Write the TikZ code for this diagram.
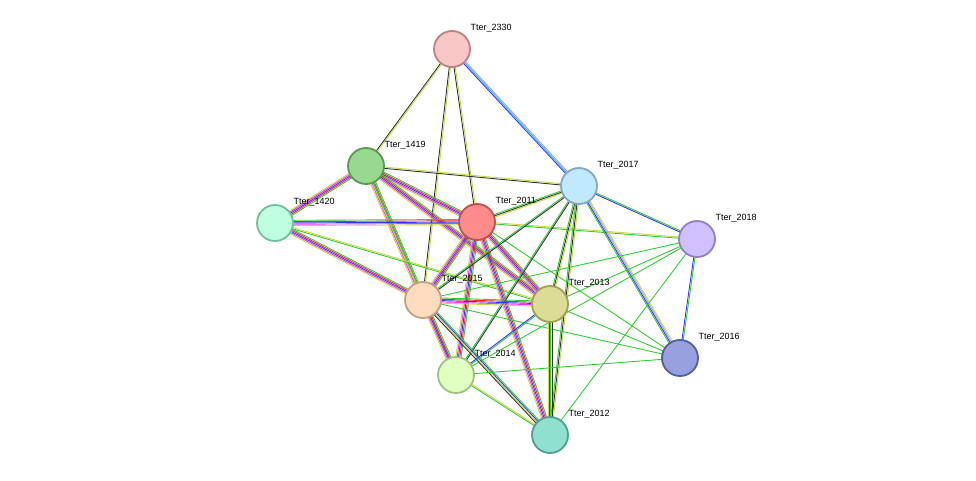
\documentclass[tikz,border=0pt]{standalone}
\usepackage{fontspec}
\setmainfont{Liberation Sans}
\usetikzlibrary{calc}
\definecolor{eG}{HTML}{33CC33}\definecolor{eB}{HTML}{3333FF}\definecolor{eR}{HTML}{FF2222}
\definecolor{eM}{HTML}{EE33EE}\definecolor{eY}{HTML}{C8D840}\definecolor{eK}{HTML}{333333}
\definecolor{eC}{HTML}{22BBEE}\definecolor{eL}{HTML}{A0A0FF}
\newcommand{\edg}[4]{\foreach \c [count=\i] in {#4}{\pgfmathsetmacro{\o}{(\i-#3/2-0.5)*1.3}
 \draw[draw=\c,line width=0.9pt] ($(#1)!\o pt!90:(#2)$) -- ($(#2)!\o pt!-90:(#1)$);}}
\tikzset{prot/.style={circle,minimum size=36pt,line width=1.8pt,inner sep=0pt},
 lab/.style={anchor=west,font=\fontsize{9}{10}\selectfont}}
\begin{document}
\begin{tikzpicture}[x=1pt,y=-1pt]
\useasboundingbox (0,0) rectangle (976,481);
\foreach \n/\x/\y in {2330/452/49,1419/366/166,1420/275/223,2011/477/222,2017/579/186,2018/697/239,2015/423/300,2013/550/304,2016/680/358,2014/456/375,2012/550/435}
 \coordinate (c\n) at (\x,\y);
\edg{c2330}{c1419}{2}{eK,eY}\edg{c2330}{c2011}{2}{eK,eY}\edg{c2330}{c2015}{2}{eK,eY}
\edg{c2330}{c2017}{3}{eB,eC,eL}
\edg{c1419}{c1420}{5}{eY,eM,eB,eR,eG}\edg{c1419}{c2011}{5}{eY,eM,eB,eR,eG}\edg{c1419}{c2015}{5}{eY,eM,eB,eR,eG}\edg{c1419}{c2013}{5}{eY,eM,eB,eR,eG}
\edg{c1419}{c2017}{2}{eK,eY}\edg{c1419}{c2014}{2}{eY,eG}
\edg{c1420}{c2011}{5}{eY,eM,eB,eR,eG}\edg{c1420}{c2015}{5}{eY,eM,eB,eR,eG}\edg{c1420}{c2013}{2}{eG,eY}
\edg{c2011}{c2017}{3}{eY,eK,eG}\edg{c2011}{c2018}{2}{eG,eY}
\edg{c2011}{c2015}{5}{eY,eM,eB,eR,eG}\edg{c2011}{c2013}{5}{eY,eM,eB,eR,eG}\edg{c2011}{c2014}{5}{eY,eM,eB,eR,eG}\edg{c2011}{c2012}{5}{eY,eM,eB,eR,eG}
\edg{c2011}{c2016}{1}{eG}
\edg{c2017}{c2018}{2}{eB,eG}\edg{c2017}{c2016}{4}{eG,eB,eL,eY}
\edg{c2017}{c2015}{2}{eG,eK}\edg{c2017}{c2013}{3}{eG,eK,eY}\edg{c2017}{c2014}{2}{eG,eK}\edg{c2017}{c2012}{3}{eG,eK,eY}
\edg{c2018}{c2016}{2}{eB,eG}
\foreach \t in {2015,2013,2014,2012}{\edg{c2018}{c\t}{1}{eG}}
\edg{c2015}{c2013}{5}{eY,eM,eB,eR,eG}\edg{c2015}{c2014}{5}{eY,eM,eB,eR,eG}\edg{c2015}{c2012}{4}{eK,eY,eB,eG}
\edg{c2015}{c2016}{1}{eG}\edg{c2013}{c2016}{1}{eG}
\edg{c2013}{c2012}{4}{eY,eB,eG,eK}\edg{c2013}{c2014}{2}{eB,eG}
\edg{c2014}{c2016}{1}{eG}\edg{c2014}{c2012}{2}{eG,eY}
\foreach \n/\f/\d in {2330/F9C6C6/C08080,1419/98D890/5A9A50,1420/BFFFE0/70C0A0,2011/FF8C8C/C05050,2017/C0E8FF/80A8C0,2018/D0C0FF/9080C0,2015/FFDCC0/C0A080,2013/DCDC96/A0A050,2016/98A0E0/5060A0,2014/E0FFC0/A0C080,2012/90E0D0/50A090}{
 \definecolor{f\n}{HTML}{\f}\definecolor{d\n}{HTML}{\d}
 \node[prot,fill=f\n,draw=d\n] (n\n) at (c\n) {};
 \node[lab] (l\n) at ($(c\n)+(15,-21)$) {Tter\_\n};}
\end{tikzpicture}
\end{document}
